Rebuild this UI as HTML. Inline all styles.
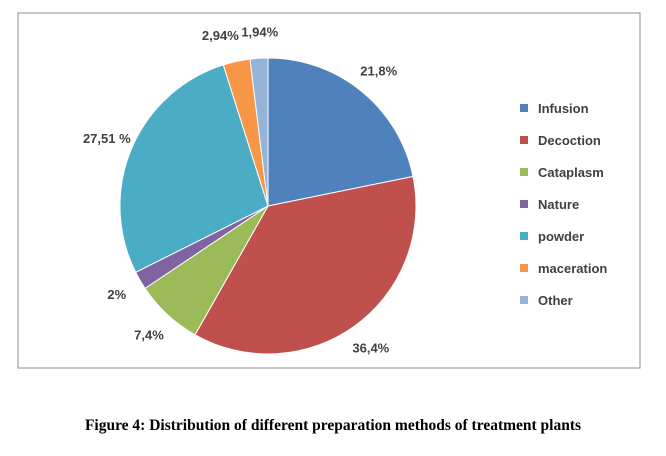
<!DOCTYPE html>
<html><head><meta charset="utf-8"><style>
body{margin:0;background:#fff;width:666px;height:451px;overflow:hidden}
svg text{font-family:"Liberation Sans",sans-serif}
</style></head><body>
<svg width="666" height="451">
<rect x="18" y="13" width="622" height="355" fill="#fff" stroke="#8c8c8c" stroke-width="1"/>
<g id="pie"></g>
<g id="labels"></g>
<g id="legend"></g>
<text x="333" y="430" text-anchor="middle" style="font-family:'Liberation Serif',serif;font-weight:bold;font-size:15.5px">Figure 4: Distribution of different preparation methods of treatment plants</text>
</svg>
<script>
const categories=["Infusion","Decoction","Cataplasm","Nature","powder","maceration","Other"];
const values=[21.8,36.4,7.4,2,27.51,2.94,1.94];
const valueLabels=["21,8%","36,4%","7,4%","2%","27,51 %","2,94%","1,94%"];
const colors=["#4F81BD","#C0504D","#9BBB59","#8064A2","#4BACC6","#F79646","#95B3D7"];
const anchors=["middle","middle","middle","middle","middle","end","start"];
const ns="http://www.w3.org/2000/svg";
const cx=268,cy=206,r=148,lr=175;
const total=values.reduce((a,b)=>a+b,0);
const pie=document.getElementById('pie'),lab=document.getElementById('labels'),leg=document.getElementById('legend');
function pt(a,rad){return [cx+rad*Math.sin(a),cy-rad*Math.cos(a)];}
let acc=0;
values.forEach((v,i)=>{
  const a0=acc/total*2*Math.PI;acc+=v;const a1=acc/total*2*Math.PI;
  const p0=pt(a0,r),p1=pt(a1,r);
  const path=document.createElementNS(ns,'path');
  path.setAttribute('d',`M${cx},${cy}L${p0[0]},${p0[1]}A${r},${r} 0 ${a1-a0>Math.PI?1:0} 1 ${p1[0]},${p1[1]}Z`);
  path.setAttribute('fill',colors[i]);path.setAttribute('stroke','#fff');path.setAttribute('stroke-width','1');
  
  
  pie.appendChild(path);
  const m=(a0+a1)/2;const lp=pt(m,lr);
  const t=document.createElementNS(ns,'text');
  let lx=lp[0];
  if(anchors[i]==='end')lx=lp[0]+8;
  if(anchors[i]==='start')lx=lp[0]-16;
  t.setAttribute('x',lx);t.setAttribute('y',lp[1]+5);t.setAttribute('text-anchor',anchors[i]);
  t.setAttribute('font-size','13');t.setAttribute('font-weight','bold');t.setAttribute('fill','#404040');
  t.textContent=valueLabels[i];
  
  
  lab.appendChild(t);
  const y=108+i*32;
  const sq=document.createElementNS(ns,'rect');
  sq.setAttribute('x',520);sq.setAttribute('y',y-4);sq.setAttribute('width',8);sq.setAttribute('height',8);sq.setAttribute('fill',colors[i]);
  
  
  leg.appendChild(sq);
  const lt=document.createElementNS(ns,'text');
  lt.setAttribute('x',538);lt.setAttribute('y',y+5);lt.setAttribute('font-size','13');lt.setAttribute('font-weight','bold');lt.setAttribute('fill','#404040');
  lt.textContent=categories[i];
  
  
  leg.appendChild(lt);
});
</script>
</body></html>
